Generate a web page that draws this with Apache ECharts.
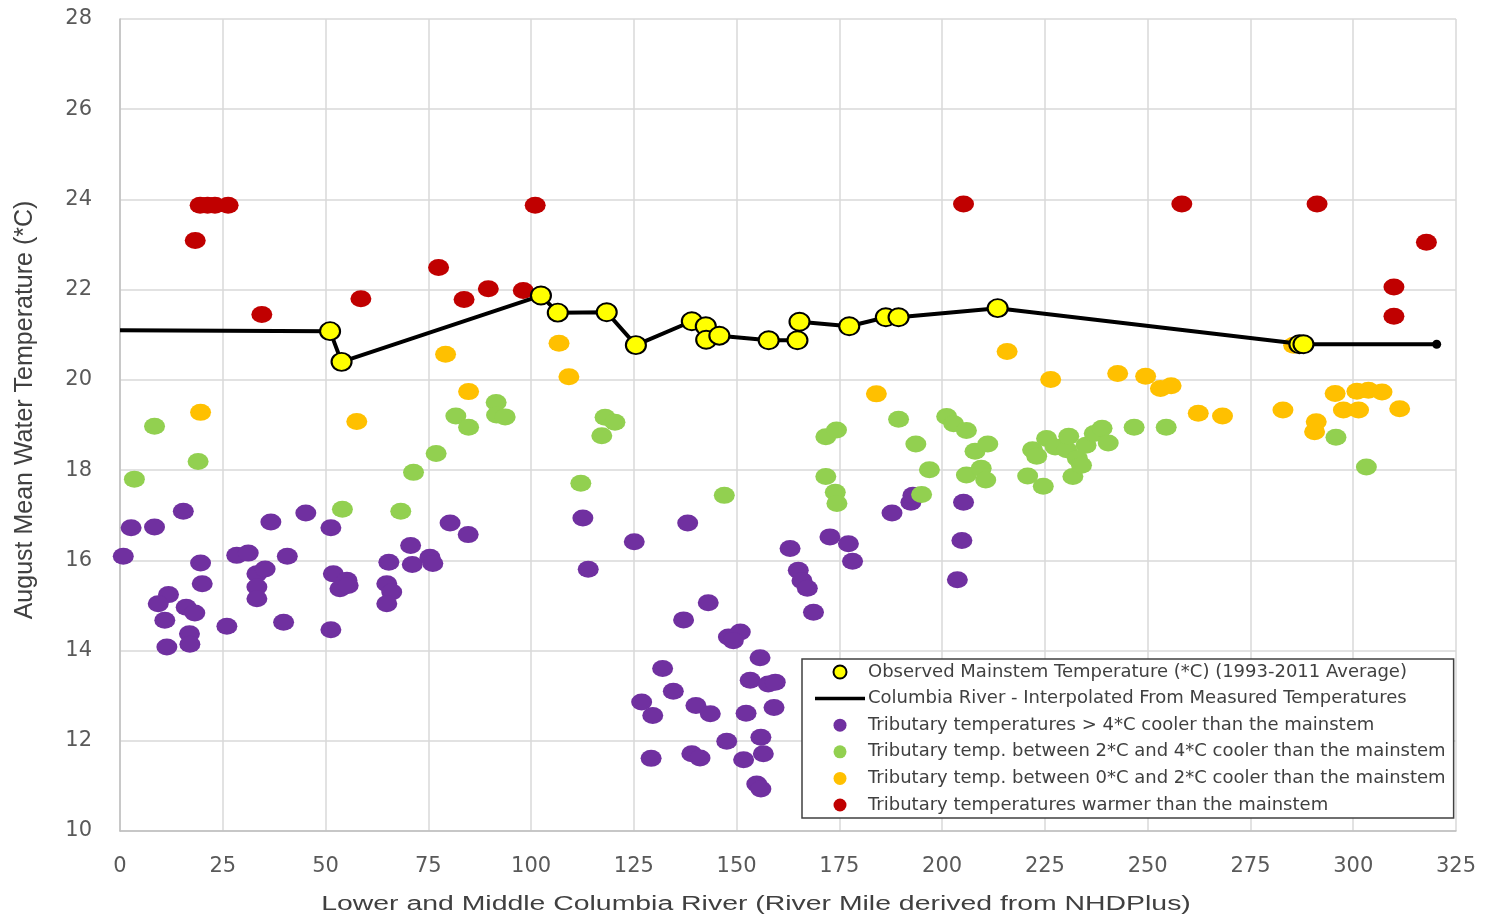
<!DOCTYPE html>
<html>
<head>
<meta charset="utf-8">
<title></title>
<style type="text/css">
  html, body { margin: 0; padding: 0; background: #fff; }
  #main { width: 1486px; height: 916px; }
</style>
</head>
<body>
<div id="main"></div>
<script src="https://cdn.jsdelivr.net/npm/echarts@6/dist/echarts.min.js"></script>
<script type="text/javascript">
// river mile, temperature (*C)
var xTicks = [0, 25, 50, 75, 100, 125, 150, 175, 200, 225, 250, 275, 300, 325];
var yTicks = [10, 12, 14, 16, 18, 20, 22, 24, 26, 28];

var interpolated = [[0,21.1],[51.1,21.08],[53.9,20.4],[102.4,21.87],[106.5,21.49],[118.4,21.5],[125.5,20.77],
  [139.1,21.3],[142.5,21.19],[142.6,20.89],[145.8,20.98],[157.8,20.88],[164.8,20.88],[165.3,21.29],
  [177.4,21.19],[186.3,21.39],[189.4,21.39],[213.5,21.59],[287.9,20.79],[320.3,20.79]];

var observed = [[51.1,21.08],[53.9,20.4],[102.4,21.87],[106.5,21.49],[118.4,21.5],[125.5,20.77],
  [139.1,21.3],[142.5,21.19],[142.6,20.89],[145.8,20.98],[157.8,20.88],[164.8,20.88],[165.3,21.29],
  [177.4,21.19],[186.3,21.39],[189.4,21.39],[213.5,21.59],[286.9,20.79],[287.9,20.79]];

var coolerOver4 = [[0.8,16.09],[2.7,16.72],[8.4,16.74],[15.4,17.09],[19.6,15.94],[20,15.48],[11.8,15.24],
  [9.3,15.04],[10.9,14.67],[16.1,14.96],[18.2,14.83],[11.4,14.08],[16.9,14.37],[17,14.14],[26,14.54],
  [28.4,16.11],[31.2,16.16],[33.3,15.7],[35.3,15.81],[33.3,15.41],[33.3,15.15],[36.7,16.85],[40.7,16.09],
  [39.8,14.63],[45.2,17.05],[51.3,16.72],[51.9,15.7],[55.2,15.56],[53.5,15.37],[55.5,15.44],[51.3,14.46],
  [65.4,15.96],[64.9,15.48],[66.1,15.3],[64.9,15.04],[70.7,16.33],[71.1,15.91],[75.4,16.07],[76.1,15.93],
  [80.3,16.83],[84.7,16.57],[112.6,16.94],[113.9,15.8],[125.1,16.41],[138.1,16.83],[143.1,15.06],
  [137.1,14.68],[148,14.3],[150.9,14.41],[149.2,14.22],[155.7,13.84],[132,13.6],[134.6,13.1],[126.9,12.86],
  [129.6,12.56],[140.1,12.78],[143.6,12.6],[153.3,13.34],[157.7,13.26],[159.4,13.3],[159.1,12.74],
  [152.3,12.61],[147.6,11.99],[155.9,12.08],[156.5,11.71],[151.7,11.58],[129.2,11.61],[139.1,11.71],
  [141.1,11.62],[154.9,11.04],[155.9,10.93],[163,16.26],[165,15.78],[165.9,15.55],[167.2,15.38],
  [168.7,14.85],[172.7,16.52],[177.2,16.37],[178.2,15.98],[187.8,17.05],[192.4,17.29],[192.9,17.44],
  [205.2,17.29],[204.8,16.44],[203.7,15.57]];

var cooler2to4 = [[3.5,17.8],[8.4,18.97],[19,18.19],[54.1,17.13],[68.3,17.09],[71.4,17.95],[76.9,18.37],
  [81.7,19.2],[84.8,18.95],[91.5,19.5],[91.6,19.22],[93.7,19.18],[112.1,17.71],[117.2,18.76],[118,19.17],
  [120.4,19.06],[147,17.44],[171.7,18.74],[174.3,18.89],[171.7,17.86],[174,17.51],[174.4,17.26],
  [189.4,19.13],[193.6,18.58],[195,17.46],[196.9,18.01],[201.1,19.19],[202.8,19.03],[205.9,18.88],
  [208,18.42],[211.1,18.58],[205.9,17.89],[209.5,18.04],[210.6,17.78],[220.8,17.87],[222,18.45],
  [223,18.31],[224.6,17.64],[225.4,18.7],[227.5,18.51],[230.3,18.45],[230.8,18.75],[231.8,17.86],
  [232.9,18.26],[233.9,18.11],[235,18.55],[237,18.81],[238.9,18.93],[240.4,18.6],[246.7,18.95],
  [254.5,18.95],[295.8,18.73],[303.2,18.07]];

var cooler0to2 = [[19.6,19.28],[57.6,19.08],[79.2,20.57],[84.8,19.74],[106.8,20.81],[109.2,20.07],
  [184,19.69],[215.8,20.63],[226.4,20.01],[242.7,20.14],[249.5,20.08],[253.1,19.81],[255.7,19.87],
  [262.3,19.26],[268.2,19.2],[285.5,20.77],[282.9,19.33],[291,19.07],[290.6,18.85],[295.6,19.7],
  [300.9,19.75],[303.7,19.77],[307,19.73],[297.6,19.33],[301.3,19.33],[311.3,19.36]];

var warmer = [[18.3,23.09],[19.5,23.87],[21.3,23.87],[23.1,23.87],[26.3,23.87],[34.5,21.45],[58.6,21.8],
  [77.5,22.49],[83.7,21.78],[89.6,22.02],[98.1,21.98],[101,23.87],[205.2,23.9],[258.3,23.9],[291.2,23.9],
  [317.8,23.05],[309.9,22.06],[309.9,21.41]];

var names = [
  'Observed Mainstem Temperature (*C) (1993-2011 Average)',
  'Columbia River - Interpolated From Measured Temperatures',
  'Tributary temperatures > 4*C cooler than the mainstem',
  'Tributary temp. between 2*C and 4*C cooler than the mainstem',
  'Tributary temp. between 0*C and 2*C cooler than the mainstem',
  'Tributary temperatures warmer than the mainstem'
];
var xTitle = 'Lower and Middle Columbia River (River Mile derived from NHDPlus)';
var yTitle = 'August Mean Water Temperature (*C)';

// only the last point of the line gets a small end marker
var lineData = interpolated.map(function (p, i) {
  if (i === interpolated.length - 1) {
    return { value: p, symbol: 'circle', symbolSize: 9 };
  }
  return { value: p, symbol: 'none' };
});

var myChart = echarts.init(document.getElementById('main'));
var axisLabel = { fontFamily: 'DejaVu Sans', fontSize: 21, color: '#595959' };
var gridLine = { show: true, lineStyle: { color: '#d9d9d9', width: 1.5 } };

function dots(name, data, color) {
  return {
    name: name, type: 'scatter', data: data, z: 2,
    symbol: 'circle', symbolSize: [21, 17],
    itemStyle: { color: color, opacity: 1 }
  };
}

var option = {
  animation: false,
  grid: { left: 120, right: 30, top: 19, bottom: 85, containLabel: false, outerBoundsMode: 'none' },
  xAxis: {
    type: 'value', min: 0, max: 325, interval: 25,
    axisLine: { lineStyle: { color: '#bfbfbf', width: 1.5 } },
    axisTick: { show: false },
    axisLabel: Object.assign({ margin: 25 }, axisLabel),
    splitLine: gridLine
  },
  yAxis: {
    type: 'value', min: 10, max: 28, interval: 2,
    axisLine: { show: true, lineStyle: { color: '#bfbfbf', width: 1.5 } },
    axisTick: { show: false },
    axisLabel: Object.assign({ margin: 28 }, axisLabel),
    splitLine: gridLine
  },
  // axis titles drawn as text so they can be stretched like the original
  graphic: [{
    type: 'text', x: 756, y: 904, scaleX: 1.42,
    style: {
      text: xTitle, align: 'center', verticalAlign: 'middle',
      font: '20px "Liberation Sans"', fill: '#404040'
    }
  }, {
    type: 'text', x: 25, y: 410, rotation: Math.PI / 2,
    style: {
      text: yTitle, align: 'center', verticalAlign: 'middle',
      font: '25px "Liberation Sans Narrow", "Liberation Sans"', fill: '#404040'
    }
  }],
  legend: {
    orient: 'vertical', left: 802, top: 659,
    padding: [4, 8, 4, 13],
    backgroundColor: '#fff', borderColor: '#404040', borderWidth: 1.5, borderRadius: 0,
    itemWidth: 50, itemHeight: 13, itemGap: 8.6,
    textStyle: { fontFamily: 'DejaVu Sans', fontSize: 18, color: '#404040', padding: [0, 0, 0, -2] },
    data: [
      { name: names[0], icon: 'circle' },
      { name: names[1], icon: 'path://M0,0L50,0L50,3.5L0,3.5Z' },
      { name: names[2], icon: 'circle' },
      { name: names[3], icon: 'circle' },
      { name: names[4], icon: 'circle' },
      { name: names[5], icon: 'circle' }
    ]
  },
  series: [
    dots(names[2], coolerOver4, '#7030a0'),
    dots(names[3], cooler2to4, '#92d050'),
    dots(names[4], cooler0to2, '#ffc000'),
    dots(names[5], warmer, '#c00000'),
    {
      name: names[1], type: 'line', data: lineData, z: 3,
      color: '#000',
      lineStyle: { color: '#000', width: 4 },
      itemStyle: { color: '#000' }
    },
    {
      name: names[0], type: 'scatter', data: observed, z: 4,
      symbol: 'circle', symbolSize: [20, 18],
      itemStyle: { color: '#ffff00', borderColor: '#000', borderWidth: 2, opacity: 1 }
    }
  ]
};

option && myChart.setOption(option);
</script>
</body>
</html>
